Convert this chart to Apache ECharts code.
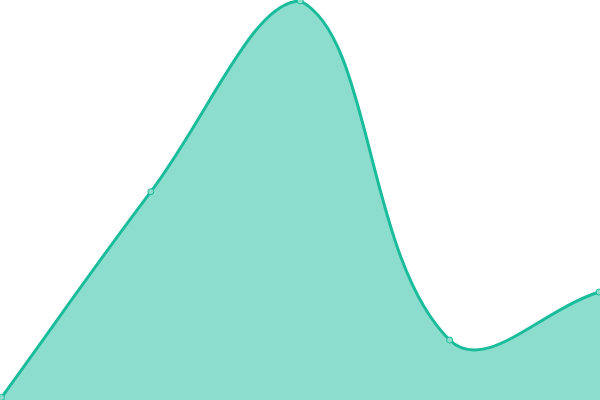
<!DOCTYPE html>
<html><head><meta charset="utf-8">
<script src="https://cdn.jsdelivr.net/npm/echarts@6/dist/echarts.min.js"></script>
<style>html,body{margin:0;padding:0;background:#fff}#c{width:600px;height:400px}</style>
</head><body><div id="c"></div>
<script>
var categories = ['A', 'B', 'C', 'D', 'E'];
var values = [0, 51.9, 100, 14.5, 26.6];
var tension = 0.4;

function renderCurve(params, api) {
  if (params.dataIndex !== 0) return;
  var cs = params.coordSys;
  var left = cs.x, right = cs.x + cs.width, top = cs.y, bottom = cs.y + cs.height;
  var pts = values.map(function (v, i) { return api.coord([i, v]); });
  var n = pts.length, cpP = [], cpN = [];
  function clampX(x) { return Math.max(left, Math.min(right, x)); }
  function clampY(y) { return Math.max(top, Math.min(bottom, y)); }
  for (var i = 0; i < n; i++) {
    var prev = pts[Math.max(0, i - 1)], cur = pts[i], next = pts[Math.min(n - 1, i + 1)];
    var d01 = Math.hypot(cur[0] - prev[0], cur[1] - prev[1]);
    var d12 = Math.hypot(next[0] - cur[0], next[1] - cur[1]);
    var s01 = d01 / (d01 + d12), s12 = d12 / (d01 + d12);
    if (isNaN(s01)) s01 = 0; if (isNaN(s12)) s12 = 0;
    var fa = tension * s01, fb = tension * s12;
    var vx = next[0] - prev[0], vy = next[1] - prev[1];
    cpP.push([clampX(cur[0] - fa * vx), clampY(cur[1] - fa * vy)]);
    cpN.push([clampX(cur[0] + fb * vx), clampY(cur[1] + fb * vy)]);
  }
  var d = 'M' + pts[0][0] + ' ' + pts[0][1];
  for (var j = 1; j < n; j++) {
    d += ' C' + cpN[j - 1][0] + ' ' + cpN[j - 1][1] + ' ' + cpP[j][0] + ' ' + cpP[j][1] + ' ' + pts[j][0] + ' ' + pts[j][1];
  }
  var floor = api.getHeight();
  var area = d + ' L' + api.getWidth() + ' ' + pts[n - 1][1] + ' L' + api.getWidth() + ' ' + floor + ' L' + pts[0][0] + ' ' + floor + ' Z';
  return {
    type: 'group',
    children: [
      {type: 'path', shape: {pathData: area}, style: {fill: 'rgba(26,188,156,0.5)', stroke: null}},
      {type: 'path', shape: {pathData: d}, style: {fill: null, stroke: '#1abc9c', lineWidth: 3, lineJoin: 'round'}}
    ]
  };
}

var chart = echarts.init(document.getElementById('c'));
chart.setOption({
  animation: false,
  grid: {left: 1.5, right: 1, top: 1, bottom: 2.5},
  xAxis: {type: 'category', data: categories, boundaryGap: false, show: false},
  yAxis: {type: 'value', min: 0, max: 100, show: false},
  series: [
    {type: 'custom', data: values.map(function (v, i) { return [i, v]; }), renderItem: renderCurve, clip: false, z: 2},
    {type: 'scatter', data: values.map(function (v, i) { return [i, v]; }), symbol: 'circle', symbolSize: 6, clip: false, z: 3,
     itemStyle: {color: '#8cdecd', borderColor: '#1abc9c', borderWidth: 1, opacity: 1}}
  ]
});
</script></body></html>
